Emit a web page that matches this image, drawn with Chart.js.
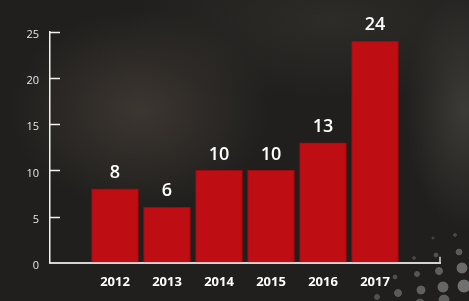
<!DOCTYPE html>
<html>
<head>
<meta charset="utf-8">
<script src="https://cdn.jsdelivr.net/npm/chart.js@4/dist/chart.umd.min.js"></script>
<style>
  html, body { margin: 0; padding: 0; }
  body {
    width: 469px; height: 301px; overflow: hidden; position: relative;
    background:
      radial-gradient(ellipse 130px 100px at 140px 110px, rgba(70,62,56,0.75), rgba(70,62,56,0) 100%),
      radial-gradient(ellipse 60px 120px at 465px 110px, rgba(68,66,62,0.8), rgba(68,66,62,0) 100%),
      radial-gradient(ellipse 200px 80px at 330px 20px, rgba(55,52,48,0.6), rgba(55,52,48,0) 100%),
      #201f1d;
  }
  #dots {
    position: absolute; left: 0; top: 0; width: 469px; height: 301px;
    background:
      radial-gradient(circle at 462px 268px, #6a6a6a 5px, transparent 5.8px),
      radial-gradient(circle at 443px 287px, #666 5px, transparent 5.8px),
      radial-gradient(circle at 464px 286px, #707070 6px, transparent 6.8px),
      radial-gradient(circle at 439px 271px, #5e5e5e 3.5px, transparent 4.3px),
      radial-gradient(circle at 421px 290px, #606060 4px, transparent 4.8px),
      radial-gradient(circle at 417px 274px, #555 2.5px, transparent 3.2px),
      radial-gradient(circle at 398px 293px, #5a5a5a 3.5px, transparent 4.2px),
      radial-gradient(circle at 395px 277px, #4e4e4e 2px, transparent 2.7px),
      radial-gradient(circle at 377px 297px, #505050 2.5px, transparent 3.2px),
      radial-gradient(circle at 459px 252px, #5a5a5a 3px, transparent 3.7px),
      radial-gradient(circle at 436px 255px, #505050 2px, transparent 2.7px),
      radial-gradient(circle at 414px 258px, #464646 1.5px, transparent 2.1px),
      radial-gradient(circle at 455px 235px, #484848 1.5px, transparent 2.1px),
      radial-gradient(circle at 433px 238px, #404040 1.2px, transparent 1.8px),
      radial-gradient(circle at 444px 300px, #5e5e5e 5px, transparent 5.8px),
      radial-gradient(circle at 420px 303px, #555 4px, transparent 4.8px);
  }
  canvas { position: absolute; left: 0; top: 0; }
</style>
</head>
<body>
<div id="dots"></div>
<canvas id="myChart" width="469" height="301"></canvas>
<script>
const years = [2012, 2013, 2014, 2015, 2016, 2017];
const values = [8, 6, 10, 10, 13, 24];
const yTicks = [0, 5, 10, 15, 20, 25];

const innerTicks = {
  id: 'innerTicks',
  afterDraw(chart) {
    const c = chart.ctx, y = chart.scales.y, area = chart.chartArea;
    c.save();
    c.strokeStyle = '#f2f2f2';
    c.lineWidth = 1.5;
    yTicks.forEach(v => {
      if (v === 0) return;
      const py = Math.round(y.getPixelForValue(v)) + 0.5;
      c.beginPath();
      c.moveTo(area.left, py);
      c.lineTo(area.left + 10, py);
      c.stroke();
    });
    c.strokeStyle = '#d4d4d4';
    c.beginPath();
    c.moveTo(area.right, area.bottom);
    c.lineTo(area.right, area.bottom - 6);
    c.stroke();
    c.restore();
  }
};

const valueLabels = {
  id: 'valueLabels',
  afterDatasetsDraw(chart) {
    const c = chart.ctx;
    const meta = chart.getDatasetMeta(0);
    c.save();
    c.fillStyle = '#ffffff';
    c.font = '600 18px "Open Sans"';
    c.textAlign = 'center';
    c.textBaseline = 'middle';
    meta.data.forEach((bar, i) => {
      c.fillText(String(values[i]), bar.x, bar.y - 16);
    });
    c.restore();
  }
};

new Chart(document.getElementById('myChart'), {
  type: 'bar',
  data: {
    datasets: [{
      data: years.map((yr, i) => ({ x: yr, y: values[i] })),
      backgroundColor: '#bf0d14',
      borderColor: '#9a0a0f',
      borderWidth: 1,
      barThickness: 47
    }]
  },
  options: {
    responsive: false,
    animation: false,
    layout: { padding: { top: 32, right: 29, left: 0, bottom: 0 } },
    plugins: { legend: { display: false }, tooltip: { enabled: false } },
    scales: {
      x: {
        type: 'linear',
        offset: false,
        min: 2010.75,
        max: 2018.25,
        afterBuildTicks: s => { s.ticks = years.map(v => ({ value: v })); },
        afterFit: s => { s.height = 38.3; },
        grid: { display: false, drawTicks: false },
        border: { color: '#d4d4d4', width: 2 },
        ticks: {
          color: '#ffffff',
          font: { family: 'Open Sans', size: 13, weight: 'bold' },
          padding: 12,
          callback: v => String(v)
        }
      },
      y: {
        min: 0,
        max: 25,
        afterBuildTicks: s => { s.ticks = yTicks.map(v => ({ value: v })); },
        afterFit: s => { s.width = 50; },
        grid: { drawOnChartArea: false, drawTicks: false },
        border: { color: '#f2f2f2', width: 1.5 },
        ticks: {
          color: '#e6e6e6',
          font: { family: 'Open Sans', size: 11 },
          padding: 11,
          labelOffset: 3
        }
      }
    }
  },
  plugins: [innerTicks, valueLabels]
});
</script>
</body>
</html>
